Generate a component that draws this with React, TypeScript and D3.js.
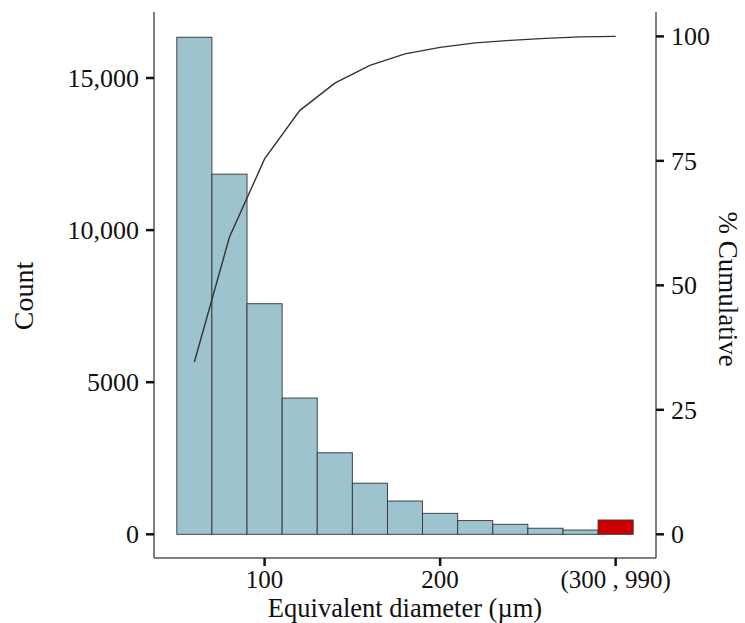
import React from 'react';
import { scaleLinear, line } from 'd3';

// histogram bins (µm), last one holds everything from 300 to 990
const binStarts = [50, 70, 90, 110, 130, 150, 170, 190, 210, 230, 250, 270, 290];
const binWidth = 20;
const counts = [16340, 11840, 7580, 4480, 2680, 1680, 1095, 690, 450, 330, 200, 140, 470];

// cumulative % read at bin centres
const cumX = [60, 80, 100, 120, 140, 160, 180, 200, 220, 240, 260, 280, 300];
const cumPct = [34.6, 59.7, 75.4, 85.1, 90.6, 94.2, 96.5, 97.8, 98.7, 99.2, 99.6, 99.9, 100];

const countTicks = [0, 5000, 10000, 15000];
const countLabels = ['0', '5000', '10,000', '15,000'];
const pctTicks = [0, 25, 50, 75, 100];
const xTicks = [100, 200, 300];
const xLabels = ['100', '200', '(300 , 990)'];

const W = 745;
const H = 623;
const left = 154;
const right = 656;
const top = 12;
const bottom = 558;

const font = '"Liberation Serif", "Times New Roman", serif';

export default function App() {
	const x = scaleLinear().domain([37, 323]).range([left, right]);
	const y = scaleLinear().domain([-779, 17170]).range([bottom, top]);
	const y2 = scaleLinear().domain([-4.76, 104.9]).range([bottom, top]);

	const cumLine = line<number>()
		.x((d, i) => x(cumX[i]))
		.y((d) => y2(d))(cumPct);

	return (
		<svg
			width={W}
			height={H}
			style={{ position: 'absolute', left: 0, top: 0, background: '#fff' }}
			fontFamily={font}>
			{/* bars */}
			{binStarts.map((b, i) => (
				<rect
					key={b}
					x={x(b)}
					y={y(counts[i])}
					width={x(b + binWidth) - x(b)}
					height={y(0) - y(counts[i])}
					fill={i === binStarts.length - 1 ? '#cc0000' : '#9dc3cf'}
					stroke="#333"
					strokeWidth={0.9}
				/>
			))}

			{/* cumulative line */}
			<path d={cumLine || ''} fill="none" stroke="#333" strokeWidth={1.4} />

			{/* axes lines */}
			<line x1={left} x2={left} y1={top} y2={bottom} stroke="#555" strokeWidth={1.5} />
			<line x1={right} x2={right} y1={top} y2={bottom} stroke="#555" strokeWidth={1.5} />
			<line x1={left} x2={right} y1={bottom} y2={bottom} stroke="#555" strokeWidth={1.5} />

			{/* left axis */}
			{countTicks.map((t, i) => (
				<g key={t} transform={`translate(0, ${y(t)})`}>
					<line x1={left - 8} x2={left} stroke="#111" strokeWidth={2.5} />
					<text x={left - 15} dy="0.34em" textAnchor="end" fontSize={26} fill="#111">
						{countLabels[i]}
					</text>
				</g>
			))}

			{/* right axis */}
			{pctTicks.map((t) => (
				<g key={t} transform={`translate(0, ${y2(t)})`}>
					<line x1={right} x2={right + 8} stroke="#111" strokeWidth={2.5} />
					<text x={right + 15} dy="0.34em" textAnchor="start" fontSize={26} fill="#111">
						{t}
					</text>
				</g>
			))}

			{/* bottom axis */}
			{xTicks.map((t, i) => (
				<g key={t} transform={`translate(${x(t)}, 0)`}>
					<line y1={bottom} y2={bottom + 8} stroke="#111" strokeWidth={2.5} />
					<text y={587.5} textAnchor="middle" fontSize={25} fill="#111">
						{xLabels[i]}
					</text>
				</g>
			))}

			{/* titles */}
			<text x={(left + right) / 2} y={617} textAnchor="middle" fontSize={26.5} fill="#111">
				Equivalent diameter (µm)
			</text>
			<text
				transform={`translate(33, ${(top + bottom) / 2 + 11}) rotate(-90)`}
				textAnchor="middle"
				fontSize={28}
				fill="#111">
				Count
			</text>
			<text
				transform={`translate(719, ${(top + bottom) / 2 + 4}) rotate(90)`}
				textAnchor="middle"
				fontSize={27}
				fill="#111">
				% Cumulative
			</text>
		</svg>
	);
}
